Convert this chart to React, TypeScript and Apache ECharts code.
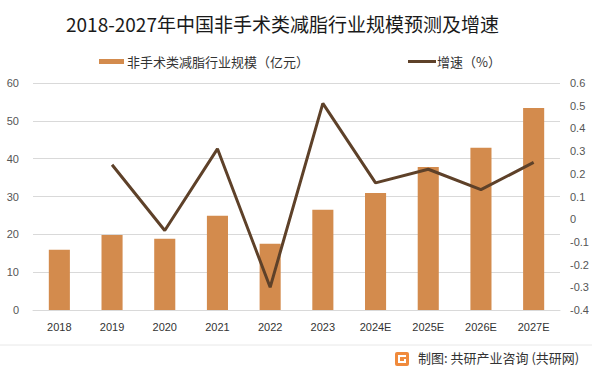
import React, { useEffect, useRef } from "react";
import * as echarts from "echarts";

const categories = ["2018", "2019", "2020", "2021", "2022", "2023", "2024E", "2025E", "2026E", "2027E"];
const marketSize = [15.9, 19.8, 18.8, 24.9, 17.5, 26.5, 30.9, 37.8, 42.9, 53.4];
const growth: (number | null)[] = [null, 0.24, -0.05, 0.31, -0.3, 0.51, 0.16, 0.22, 0.13, 0.25];

const titleText = "2018-2027年中国非手术类减脂行业规模预测及增速";
const barName = "非手术类减脂行业规模（亿元）";
const lineName = "增速（%）";
const sourceText = "制图: 共研产业咨询 (共研网)";

const FONT = "'Noto Sans CJK SC', 'Noto Sans', sans-serif";
const NUMFONT = "'Liberation Sans', sans-serif";

export default function App() {
  const ref = useRef<HTMLDivElement>(null);
  useEffect(() => {
    if (!ref.current) return;
    const chart = echarts.init(ref.current, null, { renderer: "svg" });
    chart.setOption({
      animation: false,
      backgroundColor: "#ffffff",
      textStyle: { fontFamily: FONT },
      title: {
        text: titleText,
        left: 61,
        top: 9,
        textStyle: { fontSize: 19, fontWeight: "normal", color: "#1a1a1a", fontFamily: FONT },
      },
      legend: [
        {
          top: 50,
          left: 94,
          itemWidth: 25,
          itemHeight: 5,
          itemGap: 4,
          textStyle: { fontSize: 13, color: "#333", fontFamily: FONT, padding: [0, 0, 0, -2] },
          data: [{ name: barName, icon: "rect" }],
        },
        {
          top: 50,
          left: 403,
          itemWidth: 28,
          itemHeight: 3,
          textStyle: { fontSize: 13, color: "#333", fontFamily: FONT, padding: [0, 0, 0, -4] },
          data: [{ name: lineName, icon: "rect" }],
        },
      ],
      grid: { left: 33, right: 39, top: 83, bottom: 61, containLabel: false },
      xAxis: {
        type: "category",
        data: categories,
        axisLine: { show: true, lineStyle: { color: "#d9d9d9" } },
        axisTick: { show: false },
        axisLabel: { color: "#333", fontSize: 11, margin: 11, fontFamily: NUMFONT },
      },
      yAxis: [
        {
          type: "value",
          min: 0,
          max: 60,
          interval: 10,
          axisLine: { show: false },
          axisTick: { show: false },
          splitLine: { lineStyle: { color: "#d9d9d9" } },
          axisLabel: { color: "#555", fontSize: 11, margin: 14, fontFamily: NUMFONT },
        },
        {
          type: "value",
          min: -0.4,
          max: 0.6,
          interval: 0.1,
          axisLine: { show: false },
          axisTick: { show: false },
          splitLine: { show: false },
          axisLabel: {
            color: "#555",
            fontSize: 11,
            margin: 10,
            fontFamily: NUMFONT,
            formatter: (v: number) => String(Math.round(v * 10) / 10),
          },
        },
      ],
      series: [
        {
          name: barName,
          type: "bar",
          data: marketSize,
          barWidth: "40%",
          itemStyle: { color: "#d38b4d" },
        },
        {
          name: lineName,
          type: "line",
          yAxisIndex: 1,
          data: growth,
          symbol: "none",
          lineStyle: { color: "#5e4129", width: 3 },
          itemStyle: { color: "#5e4129" },
        },
      ],
      graphic: [
        {
          type: "line",
          shape: { x1: 0, y1: 345, x2: 592, y2: 345 },
          style: { stroke: "#e8e8e8", lineWidth: 1 },
        },
        {
          type: "group",
          left: 395,
          top: 352,
          children: [
            { type: "rect", shape: { x: 0, y: 0, width: 14, height: 14, r: 2 }, style: { fill: "#f08a3c" } },
            { type: "rect", shape: { x: 3, y: 3, width: 8, height: 2 }, style: { fill: "#fff" } },
            { type: "rect", shape: { x: 3, y: 3, width: 2, height: 8 }, style: { fill: "#fff" } },
            { type: "rect", shape: { x: 3, y: 9, width: 8, height: 2 }, style: { fill: "#fff" } },
            { type: "rect", shape: { x: 9, y: 7, width: 2, height: 4 }, style: { fill: "#fff" } },
          ],
        },
        {
          type: "text",
          left: 418,
          top: 351,
          style: { text: sourceText, fontSize: 13, fill: "#333", fontFamily: FONT },
        },
      ],
    });
    return () => chart.dispose();
  }, []);
  return <div ref={ref} style={{ width: 599, height: 371, position: "absolute", left: 0, top: 0 }} />;
}
